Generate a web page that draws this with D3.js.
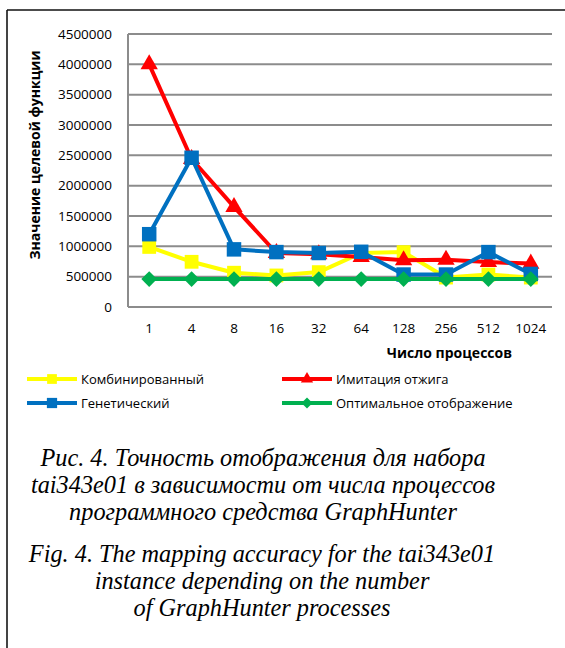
<!DOCTYPE html>
<html>
<head>
<meta charset="utf-8">
<script src="https://cdn.jsdelivr.net/npm/d3@7"></script>
<style>
  body { margin: 0; background: #fff; }
  svg text { font-family: "Open Sans", "Liberation Sans", sans-serif; }
  svg text.cap { font-family: "Liberation Serif", "DejaVu Serif", serif; font-style: italic; }
</style>
</head>
<body>
<div id="chart"></div>
<script>
var processes = ["1", "4", "8", "16", "32", "64", "128", "256", "512", "1024"]
var yTicks = [0, 500000, 1000000, 1500000, 2000000, 2500000, 3000000, 3500000, 4000000, 4500000]

var combined = [990000, 745000, 565000, 520000, 575000, 890000, 905000, 485000, 535000, 485000]
var annealing = [4000000, 2440000, 1650000, 890000, 870000, 825000, 770000, 780000, 740000, 715000]
var genetic = [1200000, 2460000, 950000, 905000, 890000, 910000, 535000, 535000, 905000, 545000]
var optimal = [460000, 460000, 460000, 460000, 460000, 460000, 460000, 460000, 460000, 460000]

var seriesNames = ["Комбинированный", "Имитация отжига", "Генетический", "Оптимальное отображение"]
var captionRu = ["Рис. 4. Точность отображения для набора", "tai343e01 в зависимости от числа процессов", "программного средства GraphHunter"]
var captionEn = ["Fig. 4. The mapping accuracy for the tai343e01", "instance depending on the number", "of GraphHunter processes"]

var series = [
  {name: seriesNames[0], values: combined, color: "#FFFF00", marker: "square", size: 190},
  {name: seriesNames[1], values: annealing, color: "#FF0000", marker: "triangle", size: 130},
  {name: seriesNames[2], values: genetic, color: "#0070C0", marker: "square", size: 210},
  {name: seriesNames[3], values: optimal, color: "#00B050", marker: "diamond", size: 110}
]

var width = 565, height = 648
var plot = {left: 128, right: 552, top: 34, bottom: 307}

var svg = d3.select("#chart").append("svg")
  .attr("width", width)
  .attr("height", height)

// frame round the figure
svg.append("line").attr("x1", 7).attr("x2", 7).attr("y1", 10).attr("y2", height)
  .attr("stroke", "#444").attr("stroke-width", 2)
svg.append("line").attr("x1", 7).attr("x2", width).attr("y1", 10).attr("y2", 10)
  .attr("stroke", "#111").attr("stroke-width", 1.5)

var xScale = d3.scaleBand()
  .domain(processes)
  .range([plot.left, plot.right])

var yScale = d3.scaleLinear()
  .domain([0, 4500000])
  .range([plot.bottom, plot.top])

var xc = d => xScale(d) + xScale.bandwidth() / 2

// gridlines
svg.append("g")
  .selectAll("line")
  .data(yTicks).enter()
  .append("line")
  .attr("x1", plot.left).attr("x2", plot.right)
  .attr("y1", d => yScale(d)).attr("y2", d => yScale(d))
  .attr("stroke", "#8c8c8c").attr("stroke-width", 2)

svg.append("line")
  .attr("x1", plot.left).attr("x2", plot.left)
  .attr("y1", plot.top).attr("y2", plot.bottom)
  .attr("stroke", "#8c8c8c").attr("stroke-width", 2)

// axes
var yAxis = svg.append("g")
  .attr("transform", `translate(${plot.left},0)`)
  .call(d3.axisLeft(yScale).tickValues(yTicks).tickFormat(d3.format("d")).tickSize(0).tickPadding(16))
  .call(g => g.select(".domain").remove())
yAxis.selectAll("text")
  .style("font-size", "13.5px").attr("fill", "#000")

var xAxis = svg.append("g")
  .attr("transform", `translate(0,${plot.bottom})`)
  .call(d3.axisBottom(xScale).tickSize(0).tickPadding(16))
  .call(g => g.select(".domain").remove())
xAxis.selectAll("text")
  .style("font-size", "13.5px").attr("fill", "#000")

svg.append("text")
  .attr("transform", "translate(40,155) rotate(-90)")
  .attr("text-anchor", "middle")
  .style("font-size", "14px").style("font-weight", "bold")
  .text("Значение целевой функции")

svg.append("text")
  .attr("x", 512).attr("y", 358)
  .attr("text-anchor", "end")
  .style("font-size", "14px").style("font-weight", "bold")
  .text("Число процессов")

// series
var line = d3.line()
  .x((d, i) => xc(processes[i]))
  .y(d => yScale(d))

var symbolType = {square: d3.symbolSquare, triangle: d3.symbolTriangle, diamond: d3.symbolDiamond}

function drawMarker(g, s, x, y, size) {
  if (s.marker == "diamond") {
    var r = Math.sqrt(size) * 0.75
    g.append("path")
      .attr("d", `M${x},${y - r}L${x + r},${y}L${x},${y + r}L${x - r},${y}Z`)
      .attr("fill", s.color)
  } else {
    g.append("path")
      .attr("d", d3.symbol().type(symbolType[s.marker]).size(size)())
      .attr("transform", `translate(${x},${y})`)
      .attr("fill", s.color)
  }
}

series.forEach(function(s) {
  var g = svg.append("g")
  g.append("path")
    .datum(s.values)
    .attr("d", line)
    .attr("fill", "none")
    .attr("stroke", s.color)
    .attr("stroke-width", 4)
    .attr("stroke-linejoin", "round")
  s.values.forEach(function(v, i) {
    drawMarker(g, s, xc(processes[i]), yScale(v), s.size)
  })
})

// legend
var legendPos = [[27, 379], [282, 379], [27, 403], [282, 403]]
series.forEach(function(s, i) {
  var g = svg.append("g")
  var x = legendPos[i][0], y = legendPos[i][1]
  g.append("line")
    .attr("x1", x).attr("x2", x + 50)
    .attr("y1", y).attr("y2", y)
    .attr("stroke", s.color).attr("stroke-width", 4)
  drawMarker(g, s, x + 25, y, s.size * 0.5)
  g.append("text")
    .attr("x", x + 54).attr("y", y)
    .attr("dy", "0.35em")
    .style("font-size", "13px")
    .text(s.name)
})

// caption
svg.append("g").selectAll("text")
  .data(captionRu).enter()
  .append("text")
  .attr("class", "cap")
  .attr("x", 263).attr("y", (d, i) => 466 + i * 27)
  .attr("text-anchor", "middle")
  .style("font-size", "24.3px")
  .text(d => d)

svg.append("g").selectAll("text")
  .data(captionEn).enter()
  .append("text")
  .attr("class", "cap")
  .attr("x", 262).attr("y", (d, i) => 562 + i * 27)
  .attr("text-anchor", "middle")
  .style("font-size", "24.3px")
  .text(d => d)
</script>
</body>
</html>
